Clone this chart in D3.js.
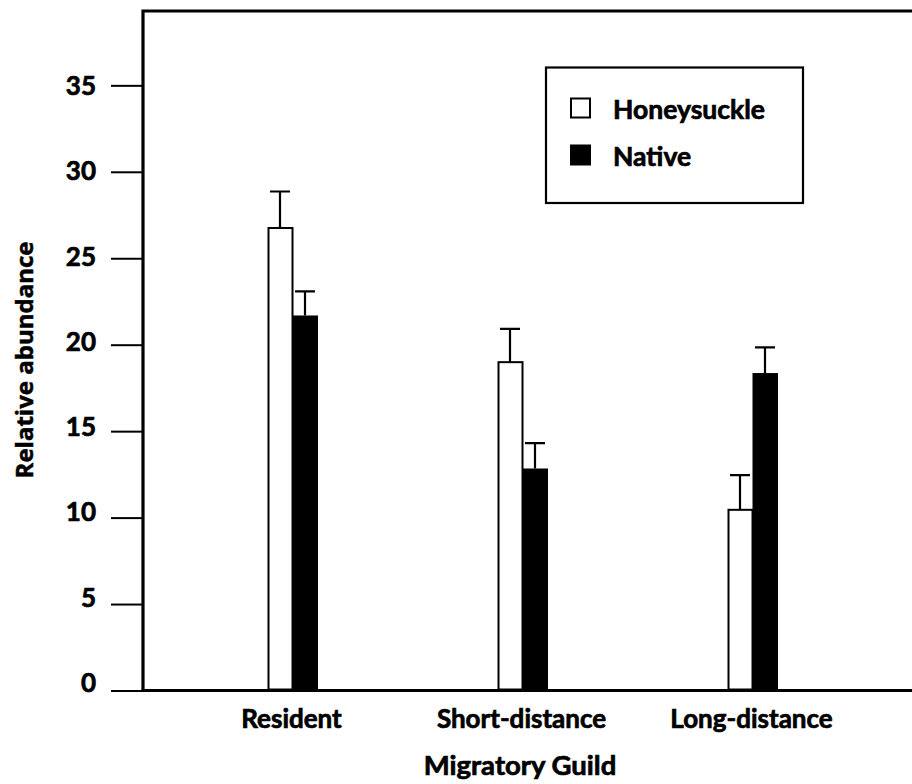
<!DOCTYPE html>
<html>
<head>
<meta charset="utf-8">
<script src="https://cdn.jsdelivr.net/npm/d3@7"></script>
<style>
  html, body { margin: 0; padding: 0; background: #fff; }
  svg { display: block; }
  .t { font-family: Lato, 'Open Sans', sans-serif; font-weight: 700; fill: #000; stroke: #000; stroke-width: 0.7px; }
</style>
</head>
<body>
<div id="chart"></div>
<script>
// ---- Data ----
const categories = ["Resident", "Short-distance", "Long-distance"];
const seriesNames = ["Honeysuckle", "Native"];
const honeysuckle = [26.75, 18.99, 10.45];
const honeysuckleErr = [2.11, 1.93, 2.01];
const native = [21.69, 12.84, 18.36];
const nativeErr = [1.39, 1.47, 1.48];
const yTicks = [0, 5, 10, 15, 20, 25, 30, 35];
const xTitle = "Migratory Guild";
const yTitle = "Relative abundance";

// ---- Layout ----
const W = 912, H = 784;
const plotLeft = 143, plotTop = 11, plotBottom = 690.5, plotRight = 902;

const svg = d3.select("#chart").append("svg")
  .attr("width", W).attr("height", H);

const y = d3.scaleLinear().domain([0, 39.3]).range([plotBottom, plotTop]);
// tick labels sit on a slightly compressed ladder in the original
const yLabel = d3.scaleLinear().domain([0, 35]).range([682.5, 85.5]);
const x = d3.scalePoint().domain(categories).range([plotLeft, plotRight]).padding(0.65);
const xs = d3.scaleBand().domain(seriesNames).range([-25, 25]);

// y axis ticks (labels drawn separately)
const yAxis = d3.axisLeft(y).tickValues(yTicks).tickSize(32).tickFormat("");
const gy = svg.append("g").attr("transform", `translate(${plotLeft},0)`).call(yAxis);
gy.select(".domain").remove();
gy.selectAll(".tick line").attr("stroke", "#000").attr("stroke-width", 2);

svg.append("g").selectAll("text").data(yTicks).join("text")
  .attr("class", "t")
  .attr("x", 96).attr("y", d => yLabel(d) + 9.5)
  .attr("text-anchor", "end")
  .attr("font-size", 26)
  .text(d => d);

// frame: left axis + top border + bottom axis (extends beyond right edge)
svg.append("path")
  .attr("d", `M${plotLeft},${plotBottom} V${plotTop} H${W + 20}`)
  .attr("fill", "none").attr("stroke", "#000").attr("stroke-width", 3.2);
svg.append("line")
  .attr("x1", plotLeft - 1.5).attr("x2", W + 20)
  .attr("y1", plotBottom).attr("y2", plotBottom)
  .attr("stroke", "#000").attr("stroke-width", 3.2);

// bars
const rows = categories.map((c, i) => ({
  cat: c,
  vals: [
    { s: "Honeysuckle", v: honeysuckle[i], e: honeysuckleErr[i] },
    { s: "Native", v: native[i], e: nativeErr[i] }
  ]
}));

const groups = svg.append("g").selectAll("g").data(rows).join("g")
  .attr("transform", d => `translate(${x(d.cat)},0)`);

groups.selectAll("rect").data(d => d.vals).join("rect")
  .attr("x", d => d.s === "Honeysuckle" ? xs(d.s) + 1 : xs(d.s))
  .attr("width", d => d.s === "Honeysuckle" ? xs.bandwidth() - 1 : xs.bandwidth() + 0.5)
  .attr("y", d => y(d.v))
  .attr("height", d => y(0) - y(d.v) - 1)
  .attr("fill", d => d.s === "Honeysuckle" ? "#fff" : "#000")
  .attr("stroke", d => d.s === "Honeysuckle" ? "#000" : "none")
  .attr("stroke-width", 2);

// error bars (upper only)
groups.selectAll("path.err").data(d => d.vals).join("path")
  .attr("class", "err")
  .attr("d", d => {
    const cx = xs(d.s) + xs.bandwidth() / 2;
    const top = y(d.v + d.e);
    return `M${cx},${y(d.v)} V${top} M${cx - 10},${top} H${cx + 10}`;
  })
  .attr("fill", "none").attr("stroke", "#000").attr("stroke-width", 2.2);

// category labels
svg.append("g").selectAll("text").data(categories).join("text")
  .attr("class", "t")
  .attr("x", d => x(d) - 1).attr("y", 728)
  .attr("text-anchor", "middle")
  .attr("font-size", 26)
  .text(d => d);

// axis titles
svg.append("text")
  .attr("class", "t")
  .attr("x", 520).attr("y", 775)
  .attr("text-anchor", "middle")
  .attr("font-size", 27.5)
  .text(xTitle);

svg.append("text")
  .attr("transform", "translate(33,360) rotate(-90)")
  .attr("text-anchor", "middle")
  .attr("font-family", "'Open Sans', sans-serif").attr("font-weight", 700).attr("font-size", 24)
  .attr("stroke", "#000").attr("stroke-width", 0.5)
  .text(yTitle);

// legend
const lg = svg.append("g");
lg.append("rect")
  .attr("x", 546).attr("y", 67.5).attr("width", 257).attr("height", 135.5)
  .attr("fill", "#fff").attr("stroke", "#000").attr("stroke-width", 2.2);
const items = lg.selectAll("g").data(seriesNames).join("g")
  .attr("transform", (d, i) => `translate(0,${i * 47})`);
items.append("rect")
  .attr("x", 571).attr("y", 98.5).attr("width", 19).attr("height", 19)
  .attr("fill", d => d === "Honeysuckle" ? "#fff" : "#000")
  .attr("stroke", "#000").attr("stroke-width", 2);
items.append("text")
  .attr("class", "t")
  .attr("x", 613).attr("y", 118.5)
  .attr("font-size", 26.5)
  .text(d => d);
</script>
</body>
</html>
